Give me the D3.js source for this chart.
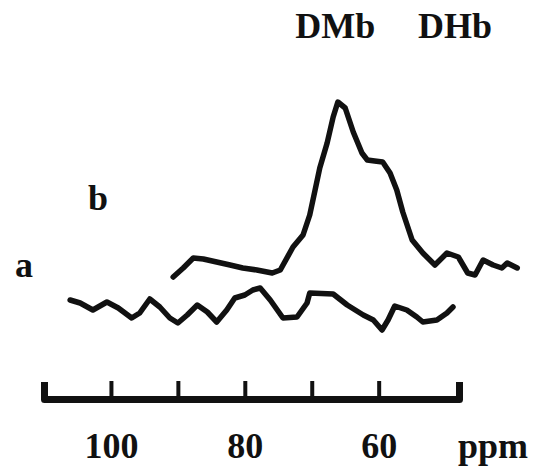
<html>

<head>
    <title>NMR spectra</title>
    <script src='https://d3js.org/d3.v7.min.js'></script>
    <style>
        body { margin: 0; background: #fff; }
        text {
            font-family: "Liberation Serif", "Times New Roman", serif;
            font-weight: bold;
            font-size: 36px;
            fill: #111;
        }
        .trace {
            fill: none;
            stroke: #111;
            stroke-width: 5.5;
            stroke-linejoin: round;
            stroke-linecap: round;
        }
    </style>
</head>

<body>
    <svg id="spectrum"></svg>
    <script>
        // chemical shift (ppm) and intensity (arbitrary units)
        var ppmA = [106.1, 104.6, 102.7, 100.6, 98.9, 96.9, 95.7, 94.2, 92.7, 91.2, 90.0, 88.6, 87.1, 85.6,
            84.2, 82.7, 81.5, 80.0, 78.8, 77.7, 76.2, 74.3, 72.2, 70.7, 70.3, 66.8, 64.7, 62.3, 60.8,
            59.5, 58.6, 57.6, 55.8, 54.3, 53.4, 51.3, 49.8, 48.9];
        var intA = [16, 14.8, 12, 15.2, 12.8, 8.8, 10.8, 16.4, 13.2, 8.8, 6.8, 10, 14, 11.2,
            7.2, 12, 16.8, 18, 20, 20.8, 16, 8.8, 9.2, 14.8, 18.8, 18.4, 14, 10, 8,
            4, 8, 13.6, 12, 9.2, 7.2, 8, 10.8, 13.2];

        var ppmB = [90.7, 89.2, 87.7, 86.2, 84.2, 82.2, 80.3, 78.2, 75.9, 74.7, 72.8, 71.3, 70.3, 69.5,
            68.8, 67.7, 66.8, 66.1, 65.0, 63.8, 62.5, 61.7, 60.6, 59.4, 58.3, 57.3, 56.4, 55.0,
            53.4, 51.6, 49.8, 48.1, 46.7, 45.6, 44.4, 42.9, 41.6, 40.8, 39.3];
        var intB = [25.2, 28.8, 32.8, 32.4, 31.2, 30, 28.8, 28, 26.8, 28, 37.2, 42, 50, 60,
            68.8, 78.8, 89.2, 95.2, 92.8, 83.2, 74.8, 72, 71.6, 71.2, 66.8, 60, 51.2, 40,
            34.8, 30, 34.8, 33.2, 26.8, 26, 32, 30, 28.8, 30.8, 28.8];

        var tickVals = [100, 90, 80, 70, 60];
        var tickLabels = { 100: "100", 80: "80", 60: "60" };

        var width = 540, height = 469;
        var axisY = 399;

        var x = d3.scaleLinear().domain([110, 48]).range([44, 459]);
        var y = d3.scaleLinear().domain([0, 100]).range([340, 90]);

        var svg = d3.select("#spectrum")
            .attr("width", width)
            .attr("height", height);

        var line = d3.line()
            .x(function (d) { return x(d[0]); })
            .y(function (d) { return y(d[1]); });

        svg.append("path")
            .attr("class", "trace")
            .attr("d", line(d3.zip(ppmA, intA)));

        svg.append("path")
            .attr("class", "trace")
            .attr("d", line(d3.zip(ppmB, intB)));

        var axis = svg.append("g")
            .attr("transform", "translate(0," + axisY + ")")
            .call(d3.axisBottom(x)
                .tickValues(tickVals)
                .tickSize(-18)
                .tickSizeOuter(-17)
                .tickPadding(33)
                .tickFormat(function (d) { return tickLabels[d] || ""; }));

        axis.select(".domain")
            .attr("stroke", "#111")
            .attr("stroke-width", 7)
            .attr("stroke-linejoin", "round");
        axis.selectAll(".tick line")
            .attr("stroke", "#111")
            .attr("stroke-width", 4);
        axis.selectAll(".tick text")
            .attr("font-size", null)
            .attr("font-family", null)
            .attr("fill", null);

        svg.append("text")
            .attr("x", x.range()[1] + 34)
            .attr("y", 458)
            .attr("text-anchor", "middle")
            .text("ppm");

        // peak assignments
        svg.append("text")
            .attr("x", x(66.5))
            .attr("y", 38)
            .attr("text-anchor", "middle")
            .text("DMb");
        svg.append("text")
            .attr("x", x(48.6))
            .attr("y", 38)
            .attr("text-anchor", "middle")
            .text("DHb");

        // trace labels
        svg.append("text")
            .attr("x", 24)
            .attr("y", 277)
            .attr("text-anchor", "middle")
            .text("a");
        svg.append("text")
            .attr("x", 98)
            .attr("y", 210)
            .attr("text-anchor", "middle")
            .text("b");
    </script>
</body>

</html>
